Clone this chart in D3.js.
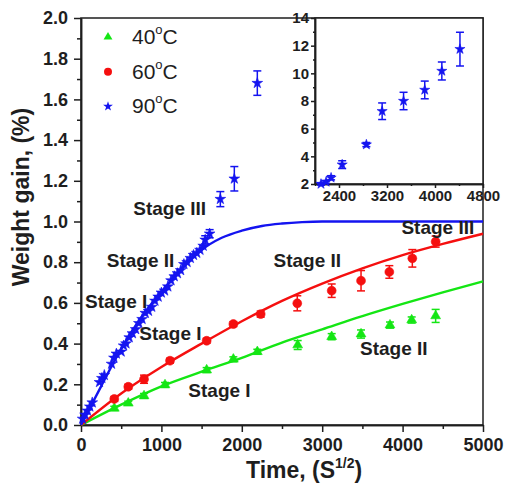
<!DOCTYPE html>
<html>
<head>
<meta charset="utf-8">
<script src="https://cdn.jsdelivr.net/npm/d3@7"></script>
<style>
  body { margin: 0; background: #fff; }
  svg { display: block; }
  text { font-family: "Liberation Sans", Arial, sans-serif; fill: #1e1e1e; }
</style>
</head>
<body>
<svg id="chart" width="506" height="488"></svg>
<script>
// ---- main panel ticks ----
const xTickValues = [0, 1000, 2000, 3000, 4000, 5000];
const xMinorValues = [500, 1500, 2500, 3500, 4500];
const yTickValues = [0, 0.2, 0.4, 0.6, 0.8, 1.0, 1.2, 1.4, 1.6, 1.8, 2.0];
const yMinorValues = [0.1, 0.3, 0.5, 0.7, 0.9, 1.1, 1.3, 1.5, 1.7, 1.9];

// ---- inset ticks ----
const insetXTicks = [2400, 3200, 4000, 4800];
const insetXMinor = [2000, 2800, 3600, 4400];
const insetYTicks = [2, 4, 6, 8, 10, 12, 14];
const insetYMinor = [3, 5, 7, 9, 11, 13];

// ---- measured weight gain: [time, gain %, error] ----
const data40 = [
  [414, 0.082, 0.01], [588, 0.107, 0.01], [784, 0.143, 0.012], [1045, 0.197, 0.012],
  [1563, 0.27, 0.012], [1895, 0.323, 0.012], [2193, 0.36, 0.012], [2695, 0.393, 0.022],
  [3118, 0.434, 0.015], [3483, 0.447, 0.02], [3843, 0.491, 0.015], [4113, 0.516, 0.015],
  [4411, 0.536, 0.032]
];
const data60 = [
  [414, 0.128, 0.012], [588, 0.188, 0.012], [784, 0.225, 0.02], [1107, 0.316, 0.012],
  [1563, 0.414, 0.012], [1895, 0.496, 0.012], [2235, 0.545, 0.015], [2690, 0.598, 0.037],
  [3118, 0.66, 0.033], [3483, 0.709, 0.05], [3835, 0.752, 0.031], [4121, 0.819, 0.043],
  [4411, 0.901, 0.027]
];
const data90 = [
  [20, 0.03, 0], [50, 0.05, 0], [80, 0.07, 0], [110, 0.09, 0], [140, 0.11, 0],
  [230, 0.21, 0], [260, 0.23, 0], [290, 0.245, 0], [380, 0.3, 0], [410, 0.33, 0],
  [440, 0.35, 0], [500, 0.36, 0], [530, 0.39, 0], [560, 0.40, 0], [600, 0.43, 0],
  [640, 0.45, 0], [680, 0.47, 0], [720, 0.50, 0], [760, 0.52, 0], [800, 0.55, 0],
  [840, 0.56, 0], [880, 0.58, 0], [920, 0.61, 0], [960, 0.63, 0], [1000, 0.65, 0],
  [1040, 0.66, 0], [1080, 0.68, 0], [1120, 0.71, 0], [1160, 0.73, 0], [1200, 0.745, 0],
  [1240, 0.76, 0], [1280, 0.79, 0], [1320, 0.80, 0], [1360, 0.82, 0], [1400, 0.835, 0],
  [1440, 0.845, 0], [1480, 0.86, 0], [1520, 0.88, 0], [1545, 0.91, 0.02], [1600, 0.94, 0.02],
  [1733, 1.11, 0.037], [1907, 1.21, 0.06], [2193, 1.68, 0.06]
];

// ---- fitted curves: [time, gain %] ----
const fit40 = [
  [0, 0], [500, 0.1], [1000, 0.19], [1500, 0.262], [2000, 0.33], [2500, 0.405],
  [3000, 0.47], [3500, 0.535], [4000, 0.595], [4500, 0.652], [5000, 0.706]
];
const fit60 = [
  [0, 0], [500, 0.155], [1000, 0.285], [1500, 0.40], [2000, 0.51], [2500, 0.61],
  [3000, 0.695], [3500, 0.77], [4000, 0.835], [4500, 0.89], [5000, 0.94]
];
const fit90 = [
  [0, 0], [250, 0.19], [500, 0.375], [750, 0.53], [1000, 0.655], [1250, 0.765],
  [1500, 0.86], [1750, 0.92], [2000, 0.955], [2250, 0.978], [2500, 0.99],
  [2750, 0.997], [3000, 1.0], [4000, 1.0], [5000, 1.0]
];

// ---- 90 °C long-term data shown in the inset: [time, gain %, error] ----
const inset90 = [
  [2100, 2.0, 0.08], [2185, 2.15, 0.1], [2268, 2.45, 0.15], [2453, 3.4, 0.28],
  [2856, 4.85, 0.15], [3119, 7.26, 0.6], [3476, 8.0, 0.63], [3829, 8.8, 0.64],
  [4114, 10.17, 0.65], [4416, 11.75, 1.22]
];

// ---- legend and stage annotations ----
const legendLabels = ["40", "60", "90"];
const stageLabels = [
  { text: "Stage III", t: 650, g: 1.03 },
  { text: "Stage II", t: 320, g: 0.775 },
  { text: "Stage I", t: 50, g: 0.575 },
  { text: "Stage I", t: 725, g: 0.418 },
  { text: "Stage I", t: 1335, g: 0.139 },
  { text: "Stage II", t: 2395, g: 0.778 },
  { text: "Stage II", t: 3470, g: 0.344 },
  { text: "Stage III", t: 3985, g: 0.937 }
];

const GREEN = "#14e614", RED = "#f50f0f", BLUE = "#1414f0", INK = "#1e1e1e";

const svg = d3.select("#chart");
svg.append("rect").attr("width", 506).attr("height", 488).attr("fill", "#fff");

const x = d3.scaleLinear().domain([0, 5000]).range([81, 483]);
const y = d3.scaleLinear().domain([0, 2]).range([425, 18]);

function styleAxis(g, fontSize) {
  g.selectAll("path.domain").attr("stroke", INK).attr("stroke-width", 1.5);
  g.selectAll(".tick line").attr("stroke", INK).attr("stroke-width", 1.5);
  g.selectAll(".tick text").attr("font-size", fontSize).attr("font-weight", "bold")
    .attr("fill", INK).style("font-family", '"Liberation Sans", Arial, sans-serif');
}

// frame
svg.append("rect").attr("x", 81).attr("y", 18).attr("width", 402).attr("height", 407)
  .attr("fill", "none").attr("stroke", INK).attr("stroke-width", 1.5);

// minor ticks
svg.append("g").attr("transform", "translate(0,425)")
  .call(d3.axisBottom(x).tickValues(xMinorValues).tickSize(4).tickSizeOuter(0).tickFormat(""))
  .call(g => styleAxis(g, 18));
svg.append("g").attr("transform", "translate(81,0)")
  .call(d3.axisLeft(y).tickValues(yMinorValues).tickSize(4).tickSizeOuter(0).tickFormat(""))
  .call(g => styleAxis(g, 18));
// major ticks
svg.append("g").attr("transform", "translate(0,425)")
  .call(d3.axisBottom(x).tickValues(xTickValues).tickSize(7).tickPadding(6).tickSizeOuter(0).tickFormat(d3.format("d")))
  .call(g => styleAxis(g, 18));
svg.append("g").attr("transform", "translate(81,0)")
  .call(d3.axisLeft(y).tickValues(yTickValues).tickSize(7).tickPadding(6).tickSizeOuter(0).tickFormat(d3.format(".1f")))
  .call(g => styleAxis(g, 18));

// axis titles
svg.append("text").attr("transform", "translate(29,197) rotate(-90)")
  .attr("text-anchor", "middle").attr("font-size", 23).attr("font-weight", "bold")
  .text("Weight gain, (%)");
const xt = svg.append("text").attr("x", 246).attr("y", 478)
  .attr("font-size", 23).attr("font-weight", "bold");
xt.append("tspan").text("Time, (S");
xt.append("tspan").attr("font-size", 14).attr("dy", -10).text("1/2");
xt.append("tspan").attr("dy", 10).text(")");

// fitted curves
const line = d3.line().x(d => x(d[0])).y(d => y(d[1])).curve(d3.curveMonotoneX);
[[fit40, GREEN], [fit60, RED], [fit90, BLUE]].forEach(([pts, c]) => {
  svg.append("path").datum(pts).attr("d", line)
    .attr("fill", "none").attr("stroke", c).attr("stroke-width", 2.4);
});

// error bars + markers
function drawSeries(g, pts, xs, ys, color, symType, size) {
  const withErr = pts.filter(d => d[2] > 0);
  const eb = g.append("g").attr("stroke", color).attr("stroke-width", 1.5);
  eb.selectAll("line.v").data(withErr).join("line")
    .attr("x1", d => xs(d[0])).attr("x2", d => xs(d[0]))
    .attr("y1", d => ys(d[1] - d[2])).attr("y2", d => ys(d[1] + d[2]));
  eb.selectAll("line.t").data(withErr).join("line")
    .attr("x1", d => xs(d[0]) - 4).attr("x2", d => xs(d[0]) + 4)
    .attr("y1", d => ys(d[1] + d[2])).attr("y2", d => ys(d[1] + d[2]));
  eb.selectAll("line.b").data(withErr).join("line")
    .attr("x1", d => xs(d[0]) - 4).attr("x2", d => xs(d[0]) + 4)
    .attr("y1", d => ys(d[1] - d[2])).attr("y2", d => ys(d[1] - d[2]));
  g.append("g").selectAll("path").data(pts).join("path")
    .attr("transform", d => `translate(${xs(d[0])},${ys(d[1])})`)
    .attr("d", d3.symbol(symType, size)).attr("fill", color)
    .attr("stroke", color).attr("stroke-width", 0.6);
}
drawSeries(svg, data40, x, y, GREEN, d3.symbolTriangle, 42);
drawSeries(svg, data60, x, y, RED, d3.symbolCircle, 62);
drawSeries(svg, data90, x, y, BLUE, d3.symbolStar, 36);

// stage annotations
svg.append("g").selectAll("text").data(stageLabels).join("text")
  .attr("x", d => x(d.t)).attr("y", d => y(d.g))
  .attr("font-size", 19).attr("font-weight", "bold").text(d => d.text);

// legend
const legendColors = [GREEN, RED, BLUE];
const legendSyms = [d3.symbolTriangle, d3.symbolCircle, d3.symbolStar];
const legendSizes = [34, 50, 30];
legendLabels.forEach((lab, i) => {
  const cy = 37 + i * 34.7;
  svg.append("path").attr("transform", `translate(108,${cy})`)
    .attr("d", d3.symbol(legendSyms[i], legendSizes[i])).attr("fill", legendColors[i]);
  const t = svg.append("text").attr("x", 132).attr("y", cy + 7).attr("font-size", 21);
  t.append("tspan").text(lab);
  t.append("tspan").attr("font-size", 13).attr("dy", -10).text("o");
  t.append("tspan").attr("dy", 10).text("C");
});

// ---- inset ----
const xi = d3.scaleLinear().domain([2000, 4800]).range([315, 483]);
const yi = d3.scaleLinear().domain([2, 14]).range([184, 18]);
svg.append("rect").attr("x", 315).attr("y", 18).attr("width", 168).attr("height", 166)
  .attr("fill", "#fff").attr("stroke", INK).attr("stroke-width", 1.5);
svg.append("g").attr("transform", "translate(0,184)")
  .call(d3.axisBottom(xi).tickValues(insetXMinor).tickSize(2).tickSizeOuter(0).tickFormat(""))
  .call(g => styleAxis(g, 15));
svg.append("g").attr("transform", "translate(315,0)")
  .call(d3.axisLeft(yi).tickValues(insetYMinor).tickSize(2).tickSizeOuter(0).tickFormat(""))
  .call(g => styleAxis(g, 15));
svg.append("g").attr("transform", "translate(0,184)")
  .call(d3.axisBottom(xi).tickValues(insetXTicks).tickSize(4).tickPadding(2).tickSizeOuter(0).tickFormat(d3.format("d")))
  .call(g => styleAxis(g, 15));
svg.append("g").attr("transform", "translate(315,0)")
  .call(d3.axisLeft(yi).tickValues(insetYTicks).tickSize(4).tickPadding(2).tickSizeOuter(0).tickFormat(d3.format("d")))
  .call(g => styleAxis(g, 15));
drawSeries(svg, inset90, xi, yi, BLUE, d3.symbolStar, 32);
</script>
</body>
</html>
